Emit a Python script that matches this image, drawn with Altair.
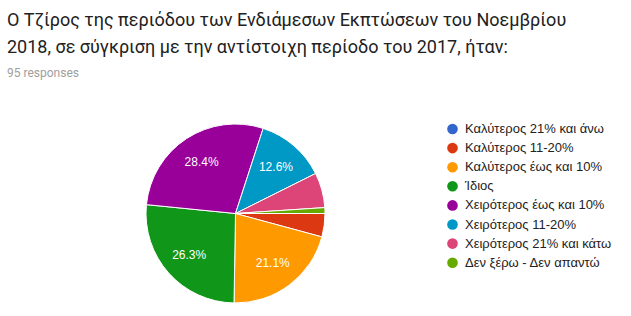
import math
import pandas as pd
import altair as alt

title_lines = [
    "Ο Τζίρος της περιόδου των Ενδιάμεσων Εκπτώσεων του Νοεμβρίου",
    "2018, σε σύγκριση με την αντίστοιχη περίοδο του 2017, ήταν:",
]
subtitle = "95 responses"
categories = [
    "Καλύτερος 21% και άνω",
    "Καλύτερος 11-20%",
    "Καλύτερος έως και 10%",
    "Ίδιος",
    "Χειρότερος έως και 10%",
    "Χειρότερος 11-20%",
    "Χειρότερος 21% και κάτω",
    "Δεν ξέρω - Δεν απαντώ",
]
counts = [0, 4, 20, 25, 27, 12, 6, 1]
colors = ["#3366cc", "#dc3912", "#ff9900", "#109618", "#990099", "#0099c6", "#dd4477", "#66aa00"]

total = sum(counts)
df = pd.DataFrame({"category": categories, "count": counts, "order": list(range(len(categories)))})
df["label"] = [f"{c / total * 100:.1f}%" if c / total >= 0.1 else "" for c in counts]

cx, cy, r = 235.5, 213.5, 89.5

theta = alt.Theta("count:Q", stack=True,
                  scale=alt.Scale(range=[math.pi / 2, math.pi / 2 + 2 * math.pi]))
color = alt.Color(
    "category:N",
    scale=alt.Scale(domain=categories, range=colors),
    sort=categories,
    legend=alt.Legend(
        title=None, orient="none", legendX=446, legendY=122.5,
        symbolType="circle", symbolSize=113, symbolStrokeWidth=0, symbolOpacity=1,
        labelFont="Arial", labelFontSize=13, labelColor="#222222",
        labelOffset=6, rowPadding=5.1, padding=0, labelLimit=300,
    ),
)

base = alt.Chart(df).encode(theta=theta, order=alt.Order("order:Q"))
pie = base.mark_arc(radius=r, stroke="white", strokeWidth=1).encode(
    color=color, x=alt.value(cx), y=alt.value(cy)
)
labels = base.mark_text(radius=62, font="Arial", fontSize=12, color="white").encode(
    text="label:N", x=alt.value(cx), y=alt.value(cy)
)

def line(txt, x, y, size, col):
    return alt.Chart(pd.DataFrame({"t": [txt]})).mark_text(
        align="left", baseline="alphabetic", font="Roboto", fontSize=size, color=col
    ).encode(text="t:N", x=alt.value(x), y=alt.value(y))

t1 = line(title_lines[0], 7, 26, 18, "#212121")
t2 = line(title_lines[1], 7, 52.5, 18, "#212121")
t3 = line(subtitle, 7, 77.3, 12, "#9e9e9e")

chart = alt.layer(pie, labels, t1, t2, t3).properties(
    width=631, height=316, padding=0, autosize="none", background="white"
).configure_view(stroke=None)

chart.save("out.html", embed_options={"renderer": "svg", "actions": False})
